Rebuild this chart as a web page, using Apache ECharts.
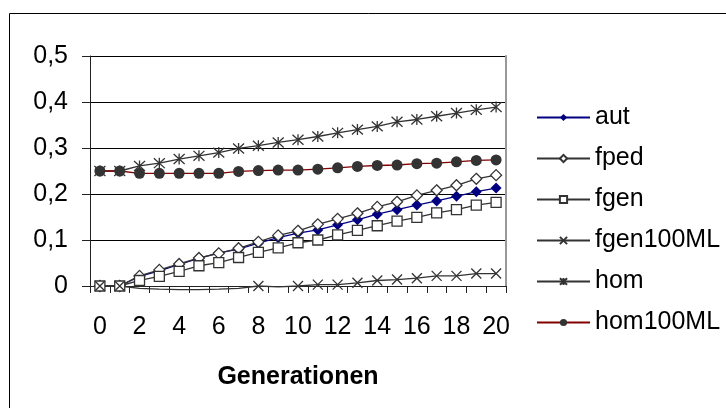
<!DOCTYPE html>
<html>
<head>
<meta charset="utf-8">
<script src="https://cdn.jsdelivr.net/npm/echarts@6/dist/echarts.min.js"></script>
<style>
html, body { margin: 0; padding: 0; background: #fff; }
#chart { width: 726px; height: 408px; }
</style>
</head>
<body>
<div id="chart"></div>
<script>
var generations = ['0','1','2','3','4','5','6','7','8','9','10','11','12','13','14','15','16','17','18','19','20'];

var aut = [0, 0, 0.021, 0.033, 0.047, 0.06, 0.072, 0.08, 0.093, 0.105, 0.115, 0.122, 0.133, 0.144, 0.156, 0.166, 0.176, 0.185, 0.195, 0.205, 0.213];
var fped = [0, 0, 0.022, 0.035, 0.048, 0.061, 0.071, 0.082, 0.096, 0.11, 0.12, 0.134, 0.146, 0.158, 0.172, 0.183, 0.197, 0.208, 0.219, 0.233, 0.241];
var fgen = [0, 0, 0.012, 0.021, 0.032, 0.044, 0.051, 0.062, 0.073, 0.083, 0.094, 0.1, 0.111, 0.121, 0.131, 0.141, 0.149, 0.159, 0.166, 0.176, 0.182];
var fgen100ML = [0, 0, -0.005, -0.007, -0.008, -0.008, -0.007, -0.005, 0, -0.002, 0, 0.003, 0.003, 0.007, 0.012, 0.014, 0.017, 0.022, 0.022, 0.027, 0.027];
var hom = [0.25, 0.25, 0.261, 0.267, 0.276, 0.283, 0.29, 0.299, 0.305, 0.312, 0.318, 0.325, 0.333, 0.34, 0.347, 0.357, 0.362, 0.369, 0.376, 0.383, 0.389];
var hom100ML = [0.25, 0.25, 0.245, 0.245, 0.245, 0.245, 0.245, 0.249, 0.251, 0.252, 0.252, 0.254, 0.257, 0.26, 0.262, 0.263, 0.266, 0.267, 0.27, 0.273, 0.274];

var font = 'Liberation Sans';
var gray = '#333333';
var xPath = 'path://M0,0L10,10M10,0L0,10';
var starPath = 'path://M5,0L5,10M0.5,0.5L9.5,9.5M9.5,0.5L0.5,9.5';

var myChart = echarts.init(document.getElementById('chart'), null, {renderer: 'canvas'});

var option = {
    animation: false,
    backgroundColor: '#fff',
    textStyle: { fontFamily: font },
    graphic: [{
        type: 'rect',
        shape: { x: 9.5, y: 13.5, width: 1000, height: 1000 },
        style: { fill: 'none', stroke: '#000', lineWidth: 1 },
        silent: true
    }],
    grid: { left: 90, right: 220, top: 56, bottom: 122 },
    legend: {
        orient: 'vertical',
        left: 531,
        top: 100,
        itemWidth: 53,
        itemHeight: 9,
        itemGap: 16,
        textStyle: { fontFamily: font, fontSize: 25, color: '#000' },
        data: ['aut', 'fped', 'fgen', 'fgen100ML', 'hom', 'hom100ML']
    },
    xAxis: {
        type: 'category',
        data: generations,
        boundaryGap: true,
        name: 'Generationen',
        nameLocation: 'middle',
        nameGap: 79,
        nameTextStyle: { fontFamily: font, fontSize: 25, fontWeight: 'bold', color: '#000' },
        axisLine: { lineStyle: { color: '#222', width: 1 } },
        axisTick: { show: true, interval: 0, length: 7, lineStyle: { color: '#222' } },
        axisLabel: { interval: 1, margin: 29, fontSize: 25, color: '#000', fontFamily: font }
    },
    yAxis: [{
        type: 'value',
        min: 0,
        max: 0.5,
        interval: 0.1,
        axisLine: { show: true, lineStyle: { color: '#222', width: 1 } },
        axisTick: { show: true, length: 8, lineStyle: { color: '#222' } },
        splitLine: { lineStyle: { color: '#000', width: 1 } },
        axisLabel: {
            margin: 22, fontSize: 25, color: '#000', fontFamily: font,
            formatter: function (v) { return String(Math.round(v * 10) / 10).replace('.', ','); }
        }
    }, {
        type: 'value',
        position: 'right',
        min: 0,
        max: 0.5,
        interval: 0.1,
        axisLine: { show: true, lineStyle: { color: '#999', width: 2 } },
        axisTick: { show: false },
        axisLabel: { show: false },
        splitLine: { show: false }
    }],
    series: [
        {
            name: 'aut', type: 'line', data: aut,
            symbol: 'diamond', symbolSize: 11,
            itemStyle: { color: '#000080' },
            lineStyle: { color: '#000080', width: 1.3 }
        },
        {
            name: 'fped', type: 'line', data: fped,
            symbol: 'diamond', symbolSize: 11,
            itemStyle: { color: '#fff', borderColor: gray, borderWidth: 1.3 },
            lineStyle: { color: gray, width: 1.3 }
        },
        {
            name: 'fgen', type: 'line', data: fgen,
            symbol: 'rect', symbolSize: 10,
            itemStyle: { color: '#fff', borderColor: gray, borderWidth: 1.3 },
            lineStyle: { color: gray, width: 1.3 }
        },
        {
            name: 'fgen100ML', type: 'line', data: fgen100ML,
            clip: false,
            symbol: xPath,
            symbolSize: function (v) { return v < 0 ? 0 : 10; },
            itemStyle: { color: 'none', borderColor: gray, borderWidth: 1.3 },
            lineStyle: { color: gray, width: 1.3 }
        },
        {
            name: 'hom', type: 'line', data: hom,
            symbol: starPath, symbolSize: 11,
            itemStyle: { color: 'none', borderColor: gray, borderWidth: 1.3 },
            lineStyle: { color: gray, width: 1.3 }
        },
        {
            name: 'hom100ML', type: 'line', data: hom100ML,
            symbol: 'circle', symbolSize: 11,
            itemStyle: { color: gray, borderWidth: 0 },
            lineStyle: { color: '#800000', width: 1.3 }
        }
    ]
};

myChart.setOption(option);
</script>
</body>
</html>
